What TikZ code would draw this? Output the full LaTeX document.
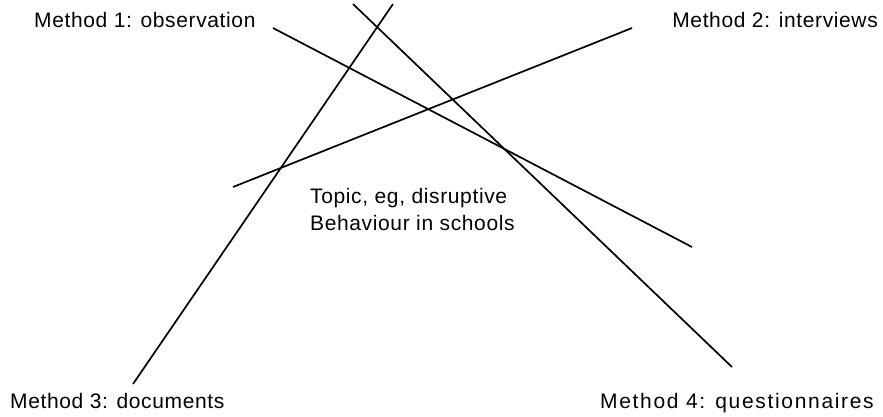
\documentclass[tikz,border=0pt]{standalone}
\usepackage{fontspec}
\setmainfont{Liberation Sans}[LetterSpace=3]
\begin{document}
\begin{tikzpicture}[x=1pt,y=-1pt,
  lbl/.style={inner sep=0pt,font=\fontsize{21}{27}\selectfont},
  ray/.style={line width=1.7pt,black}]
\useasboundingbox (0,0) rectangle (883,416);
% method labels and topic
\node[lbl,anchor=base west] (m1) at (34,27) {Method 1: observation};
\node[lbl,anchor=base east] (m2) at (878,27) {Method 2: interviews};
\node[lbl,anchor=base west] (m3) at (10,408) {Method 3: documents};
\node[lbl,anchor=base east] (m4) at (874,408) {\addfontfeature{LetterSpace=8}Method 4: questionnaires};
\node[lbl,anchor=base west] (t1) at (310,203) {Topic, eg, disruptive};
\node[lbl,anchor=base west] (t2) at (310,230) {Behaviour in schools};
% line end points
\coordinate (a1) at (273,28);  \coordinate (a2) at (692,247);
\coordinate (b1) at (632,28);  \coordinate (b2) at (233,187);
\coordinate (c1) at (393,4);   \coordinate (c2) at (133,384);
\coordinate (d1) at (353,4);   \coordinate (d2) at (732,367);
% crossing lines
\draw[ray] (a1) -- (a2);
\draw[ray] (b1) -- (b2);
\draw[ray] (c1) -- (c2);
\draw[ray] (d1) -- (d2);
\end{tikzpicture}
\end{document}
